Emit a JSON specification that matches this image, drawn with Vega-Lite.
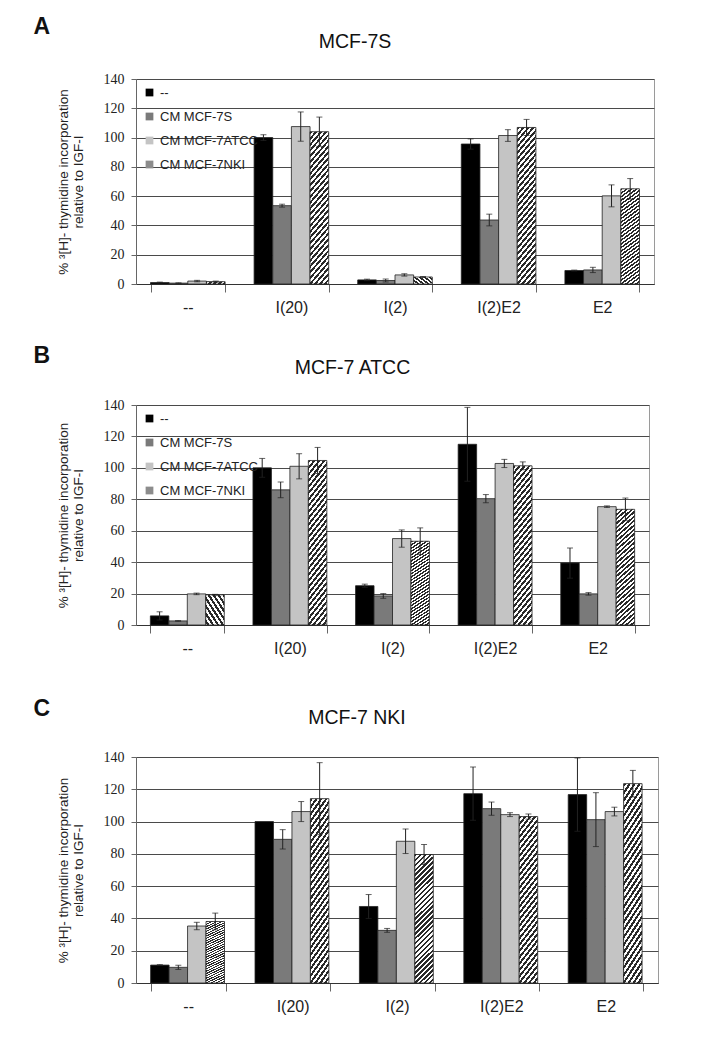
{
  "$schema": "https://vega.github.io/schema/vega-lite/v6.json",
  "background": "white",
  "padding": {"left": 33, "top": 16, "right": 10, "bottom": 5},
  "config": {
    "font": "Liberation Sans",
    "view": {"stroke": "#9a9a9a", "strokeWidth": 1},
    "title": {"font": "Liberation Sans", "color": "#111"},
    "axisY": {
      "values": [0, 20, 40, 60, 80, 100, 120, 140],
      "grid": true, "gridColor": "#4a4a4a", "gridWidth": 1,
      "domainColor": "#666", "tickColor": "#666", "tickSize": 5,
      "labelFont": "Liberation Serif", "labelFontSize": 14, "labelColor": "#222", "labelPadding": 7,
      "titleFont": "Liberation Sans", "titleFontSize": 13.5, "titleFontWeight": "normal", "titleColor": "#222",
      "titlePadding": 18, "titleLineHeight": 15
    },
    "axisX": {
      "tickBand": "extent", "tickSize": 8, "tickColor": "#666", "domainColor": "#333",
      "labelFontSize": 16, "labelAngle": 0, "labelPadding": 7, "labelColor": "#222", "grid": false, "title": null
    },
    "legend": {
      "orient": "top-left", "offset": 6, "padding": 1, "title": null, "symbolType": "square", "symbolSize": 60,
      "symbolStrokeColor": "#222", "symbolStrokeWidth": 0.6, "labelFontSize": 13, "labelFont": "Liberation Sans",
      "labelColor": "#222", "rowPadding": 10, "labelOffset": 4,
      "symbolOpacity": 1
    }
  },
  "datasets": {
    "a": [
      {"t": "--", "c": "--", "m": 1.0, "lo": 0.7, "hi": 1.3},
      {"t": "--", "c": "CM MCF-7S", "m": 0.6, "lo": 0.4, "hi": 0.8},
      {"t": "--", "c": "CM MCF-7ATCC", "m": 2.0, "lo": 1.5, "hi": 2.5},
      {"t": "--", "c": "CM MCF-7NKI", "m": 1.6, "lo": 1.2, "hi": 2.0},
      {"t": "I(20)", "c": "--", "m": 100, "lo": 98, "hi": 102},
      {"t": "I(20)", "c": "CM MCF-7S", "m": 53.5, "lo": 52.5, "hi": 54.5},
      {"t": "I(20)", "c": "CM MCF-7ATCC", "m": 107.5, "lo": 97.5, "hi": 117.5},
      {"t": "I(20)", "c": "CM MCF-7NKI", "m": 104, "lo": 94, "hi": 114},
      {"t": "I(2)", "c": "--", "m": 2.8, "lo": 2.3, "hi": 3.3},
      {"t": "I(2)", "c": "CM MCF-7S", "m": 2.4, "lo": 1.4, "hi": 3.4},
      {"t": "I(2)", "c": "CM MCF-7ATCC", "m": 6.2, "lo": 5.4, "hi": 7.0},
      {"t": "I(2)", "c": "CM MCF-7NKI", "m": 4.8, "lo": 4.5, "hi": 5.1},
      {"t": "I(2)E2", "c": "--", "m": 95.6, "lo": 92.1, "hi": 99.1},
      {"t": "I(2)E2", "c": "CM MCF-7S", "m": 43.7, "lo": 39.7, "hi": 47.7},
      {"t": "I(2)E2", "c": "CM MCF-7ATCC", "m": 101.4, "lo": 97.4, "hi": 105.4},
      {"t": "I(2)E2", "c": "CM MCF-7NKI", "m": 106.9, "lo": 101.4, "hi": 112.4},
      {"t": "E2", "c": "--", "m": 9.2, "lo": 8.9, "hi": 9.5},
      {"t": "E2", "c": "CM MCF-7S", "m": 9.6, "lo": 7.8, "hi": 11.4},
      {"t": "E2", "c": "CM MCF-7ATCC", "m": 60.2, "lo": 52.7, "hi": 67.7},
      {"t": "E2", "c": "CM MCF-7NKI", "m": 65, "lo": 58, "hi": 72}
    ],
    "b": [
      {"t": "--", "c": "--", "m": 5.8, "lo": 3.2, "hi": 8.4},
      {"t": "--", "c": "CM MCF-7S", "m": 2.6, "lo": 2.4, "hi": 2.8},
      {"t": "--", "c": "CM MCF-7ATCC", "m": 19.8, "lo": 19.3, "hi": 20.3},
      {"t": "--", "c": "CM MCF-7NKI", "m": 19.2, "lo": 18.9, "hi": 19.5},
      {"t": "I(20)", "c": "--", "m": 100, "lo": 94, "hi": 106},
      {"t": "I(20)", "c": "CM MCF-7S", "m": 86, "lo": 81, "hi": 91},
      {"t": "I(20)", "c": "CM MCF-7ATCC", "m": 101, "lo": 93, "hi": 109},
      {"t": "I(20)", "c": "CM MCF-7NKI", "m": 104.7, "lo": 96.4, "hi": 113},
      {"t": "I(2)", "c": "--", "m": 25, "lo": 24, "hi": 26},
      {"t": "I(2)", "c": "CM MCF-7S", "m": 18.5, "lo": 17, "hi": 20},
      {"t": "I(2)", "c": "CM MCF-7ATCC", "m": 55, "lo": 49.5, "hi": 60.5},
      {"t": "I(2)", "c": "CM MCF-7NKI", "m": 53.3, "lo": 44.8, "hi": 61.8},
      {"t": "I(2)E2", "c": "--", "m": 115, "lo": 91.5, "hi": 138.5},
      {"t": "I(2)E2", "c": "CM MCF-7S", "m": 80.4, "lo": 77.8, "hi": 83},
      {"t": "I(2)E2", "c": "CM MCF-7ATCC", "m": 102.8, "lo": 100.2, "hi": 105.4},
      {"t": "I(2)E2", "c": "CM MCF-7NKI", "m": 101.3, "lo": 98.8, "hi": 103.8},
      {"t": "E2", "c": "--", "m": 39.4, "lo": 29.8, "hi": 49},
      {"t": "E2", "c": "CM MCF-7S", "m": 19.8, "lo": 19, "hi": 20.6},
      {"t": "E2", "c": "CM MCF-7ATCC", "m": 75.3, "lo": 74.8, "hi": 75.8},
      {"t": "E2", "c": "CM MCF-7NKI", "m": 73.6, "lo": 66.4, "hi": 80.8}
    ],
    "c": [
      {"t": "--", "c": "--", "m": 11.1, "lo": 10.8, "hi": 11.4},
      {"t": "--", "c": "CM MCF-7S", "m": 9.7, "lo": 8.4, "hi": 11},
      {"t": "--", "c": "CM MCF-7ATCC", "m": 35.3, "lo": 33, "hi": 37.6},
      {"t": "--", "c": "CM MCF-7NKI", "m": 38.1, "lo": 32.9, "hi": 43.3},
      {"t": "I(20)", "c": "--", "m": 100, "lo": null, "hi": null},
      {"t": "I(20)", "c": "CM MCF-7S", "m": 89, "lo": 83, "hi": 95},
      {"t": "I(20)", "c": "CM MCF-7ATCC", "m": 106.2, "lo": 100, "hi": 112.4},
      {"t": "I(20)", "c": "CM MCF-7NKI", "m": 114.2, "lo": 91.9, "hi": 136.5},
      {"t": "I(2)", "c": "--", "m": 47.4, "lo": 40, "hi": 54.8},
      {"t": "I(2)", "c": "CM MCF-7S", "m": 32.6, "lo": 31.4, "hi": 33.8},
      {"t": "I(2)", "c": "CM MCF-7ATCC", "m": 87.8, "lo": 80.2, "hi": 95.4},
      {"t": "I(2)", "c": "CM MCF-7NKI", "m": 79.6, "lo": 73.4, "hi": 85.8},
      {"t": "I(2)E2", "c": "--", "m": 117.3, "lo": 100.8, "hi": 133.8},
      {"t": "I(2)E2", "c": "CM MCF-7S", "m": 108, "lo": 103.9, "hi": 112.1},
      {"t": "I(2)E2", "c": "CM MCF-7ATCC", "m": 104.3, "lo": 103.1, "hi": 105.5},
      {"t": "I(2)E2", "c": "CM MCF-7NKI", "m": 103.1, "lo": 101.5, "hi": 104.7},
      {"t": "E2", "c": "--", "m": 116.7, "lo": 94, "hi": 139.4},
      {"t": "E2", "c": "CM MCF-7S", "m": 101.2, "lo": 84.5, "hi": 117.9},
      {"t": "E2", "c": "CM MCF-7ATCC", "m": 106.2, "lo": 103.5, "hi": 108.9},
      {"t": "E2", "c": "CM MCF-7NKI", "m": 123.5, "lo": 115.3, "hi": 131.7}
    ]
  },
  "resolve": {"scale": {"x": "independent", "y": "independent", "fill": "independent", "xOffset": "independent"}, "legend": {"fill": "independent"}},
  "spacing": 29,
  "vconcat": [
    {
      "title": {"text": "A", "anchor": "start", "frame": "bounds", "fontSize": 23, "fontWeight": "bold", "offset": -8, "dx": -22},
      "vconcat": [{
        "width": 518, "height": 205,
        "title": {"text": "MCF-7S", "anchor": "middle", "frame": "bounds", "fontSize": 19.5, "fontWeight": "normal", "offset": 20},
        "data": {"name": "a"},
        "encoding": {
          "x": {"field": "t", "type": "nominal", "sort": ["--", "I(20)", "I(2)", "I(2)E2", "E2"], "scale": {"paddingInner": 0.28, "paddingOuter": 0.14}, "title": null},
          "xOffset": {"field": "c", "type": "nominal", "scale": {"domain": ["--", "CM MCF-7S", "CM MCF-7ATCC", "CM MCF-7NKI"], "paddingInner": 0, "paddingOuter": 0}}
        },
        "layer": [
          {"transform": [{"filter": "datum.c !== 'CM MCF-7NKI'"}],
           "mark": {"type": "bar", "stroke": "#222", "strokeWidth": 0.8},
           "encoding": {
             "y": {"field": "m", "type": "quantitative", "scale": {"domain": [0, 140], "nice": false}, "title": ["% ³[H]- thymidine incorporation", "relative to IGF-I"], "axis": {"labelFont": "Liberation Serif", "labelFontSize": 14}},
             "fill": {"field": "c", "type": "nominal", "scale": {"domain": ["--", "CM MCF-7S", "CM MCF-7ATCC", "CM MCF-7NKI"], "range": ["#000000", "#7a7a7a", "#c4c4c4", "#8c8c8c"]},
               "legend": {"encode": {"symbols": {"update": {"fill": [
                 {"test": "datum.value === 'CM MCF-7NKI'", "value": {"gradient": "linear", "x1": 0, "y1": 0, "x2": 1, "y2": 1, "stops": [
                   {"offset": 0, "color": "#2a2a2a"}, {"offset": 0.1, "color": "#2a2a2a"}, {"offset": 0.1, "color": "#ffffff"}, {"offset": 0.2, "color": "#ffffff"},
                   {"offset": 0.2, "color": "#2a2a2a"}, {"offset": 0.3, "color": "#2a2a2a"}, {"offset": 0.3, "color": "#ffffff"}, {"offset": 0.4, "color": "#ffffff"},
                   {"offset": 0.4, "color": "#2a2a2a"}, {"offset": 0.5, "color": "#2a2a2a"}, {"offset": 0.5, "color": "#ffffff"}, {"offset": 0.6, "color": "#ffffff"},
                   {"offset": 0.6, "color": "#2a2a2a"}, {"offset": 0.7, "color": "#2a2a2a"}, {"offset": 0.7, "color": "#ffffff"}, {"offset": 0.8, "color": "#ffffff"},
                   {"offset": 0.8, "color": "#2a2a2a"}, {"offset": 0.9, "color": "#2a2a2a"}, {"offset": 0.9, "color": "#ffffff"}, {"offset": 1, "color": "#ffffff"}]}},
                 {"test": "datum.value === '--'", "value": "#000000"},
                 {"test": "datum.value === 'CM MCF-7S'", "value": "#7a7a7a"},
                 {"value": "#c4c4c4"}]}}}}}
           }},
          {"transform": [{"filter": "datum.c === 'CM MCF-7NKI'"}],
           "mark": {"type": "bar", "stroke": "#222", "strokeWidth": 0.8, "fill": {"gradient": "linear", "x1": 0, "y1": 0, "x2": 0.16, "y2": 1.12, "stops": [
             {"offset": 0, "color": "#2a2a2a"}, {"offset": 0.0167, "color": "#2a2a2a"}, {"offset": 0.0167, "color": "#ffffff"}, {"offset": 0.0333, "color": "#ffffff"},
             {"offset": 0.0333, "color": "#2a2a2a"}, {"offset": 0.05, "color": "#2a2a2a"}, {"offset": 0.05, "color": "#ffffff"}, {"offset": 0.0667, "color": "#ffffff"},
             {"offset": 0.0667, "color": "#2a2a2a"}, {"offset": 0.0833, "color": "#2a2a2a"}, {"offset": 0.0833, "color": "#ffffff"}, {"offset": 0.1, "color": "#ffffff"},
             {"offset": 0.1, "color": "#2a2a2a"}, {"offset": 0.1167, "color": "#2a2a2a"}, {"offset": 0.1167, "color": "#ffffff"}, {"offset": 0.1333, "color": "#ffffff"},
             {"offset": 0.1333, "color": "#2a2a2a"}, {"offset": 0.15, "color": "#2a2a2a"}, {"offset": 0.15, "color": "#ffffff"}, {"offset": 0.1667, "color": "#ffffff"},
             {"offset": 0.1667, "color": "#2a2a2a"}, {"offset": 0.1833, "color": "#2a2a2a"}, {"offset": 0.1833, "color": "#ffffff"}, {"offset": 0.2, "color": "#ffffff"},
             {"offset": 0.2, "color": "#2a2a2a"}, {"offset": 0.2167, "color": "#2a2a2a"}, {"offset": 0.2167, "color": "#ffffff"}, {"offset": 0.2333, "color": "#ffffff"},
             {"offset": 0.2333, "color": "#2a2a2a"}, {"offset": 0.25, "color": "#2a2a2a"}, {"offset": 0.25, "color": "#ffffff"}, {"offset": 0.2667, "color": "#ffffff"},
             {"offset": 0.2667, "color": "#2a2a2a"}, {"offset": 0.2833, "color": "#2a2a2a"}, {"offset": 0.2833, "color": "#ffffff"}, {"offset": 0.3, "color": "#ffffff"},
             {"offset": 0.3, "color": "#2a2a2a"}, {"offset": 0.3167, "color": "#2a2a2a"}, {"offset": 0.3167, "color": "#ffffff"}, {"offset": 0.3333, "color": "#ffffff"},
             {"offset": 0.3333, "color": "#2a2a2a"}, {"offset": 0.35, "color": "#2a2a2a"}, {"offset": 0.35, "color": "#ffffff"}, {"offset": 0.3667, "color": "#ffffff"},
             {"offset": 0.3667, "color": "#2a2a2a"}, {"offset": 0.3833, "color": "#2a2a2a"}, {"offset": 0.3833, "color": "#ffffff"}, {"offset": 0.4, "color": "#ffffff"},
             {"offset": 0.4, "color": "#2a2a2a"}, {"offset": 0.4167, "color": "#2a2a2a"}, {"offset": 0.4167, "color": "#ffffff"}, {"offset": 0.4333, "color": "#ffffff"},
             {"offset": 0.4333, "color": "#2a2a2a"}, {"offset": 0.45, "color": "#2a2a2a"}, {"offset": 0.45, "color": "#ffffff"}, {"offset": 0.4667, "color": "#ffffff"},
             {"offset": 0.4667, "color": "#2a2a2a"}, {"offset": 0.4833, "color": "#2a2a2a"}, {"offset": 0.4833, "color": "#ffffff"}, {"offset": 0.5, "color": "#ffffff"},
             {"offset": 0.5, "color": "#2a2a2a"}, {"offset": 0.5167, "color": "#2a2a2a"}, {"offset": 0.5167, "color": "#ffffff"}, {"offset": 0.5333, "color": "#ffffff"},
             {"offset": 0.5333, "color": "#2a2a2a"}, {"offset": 0.55, "color": "#2a2a2a"}, {"offset": 0.55, "color": "#ffffff"}, {"offset": 0.5667, "color": "#ffffff"},
             {"offset": 0.5667, "color": "#2a2a2a"}, {"offset": 0.5833, "color": "#2a2a2a"}, {"offset": 0.5833, "color": "#ffffff"}, {"offset": 0.6, "color": "#ffffff"},
             {"offset": 0.6, "color": "#2a2a2a"}, {"offset": 0.6167, "color": "#2a2a2a"}, {"offset": 0.6167, "color": "#ffffff"}, {"offset": 0.6333, "color": "#ffffff"},
             {"offset": 0.6333, "color": "#2a2a2a"}, {"offset": 0.65, "color": "#2a2a2a"}, {"offset": 0.65, "color": "#ffffff"}, {"offset": 0.6667, "color": "#ffffff"},
             {"offset": 0.6667, "color": "#2a2a2a"}, {"offset": 0.6833, "color": "#2a2a2a"}, {"offset": 0.6833, "color": "#ffffff"}, {"offset": 0.7, "color": "#ffffff"},
             {"offset": 0.7, "color": "#2a2a2a"}, {"offset": 0.7167, "color": "#2a2a2a"}, {"offset": 0.7167, "color": "#ffffff"}, {"offset": 0.7333, "color": "#ffffff"},
             {"offset": 0.7333, "color": "#2a2a2a"}, {"offset": 0.75, "color": "#2a2a2a"}, {"offset": 0.75, "color": "#ffffff"}, {"offset": 0.7667, "color": "#ffffff"},
             {"offset": 0.7667, "color": "#2a2a2a"}, {"offset": 0.7833, "color": "#2a2a2a"}, {"offset": 0.7833, "color": "#ffffff"}, {"offset": 0.8, "color": "#ffffff"},
             {"offset": 0.8, "color": "#2a2a2a"}, {"offset": 0.8167, "color": "#2a2a2a"}, {"offset": 0.8167, "color": "#ffffff"}, {"offset": 0.8333, "color": "#ffffff"},
             {"offset": 0.8333, "color": "#2a2a2a"}, {"offset": 0.85, "color": "#2a2a2a"}, {"offset": 0.85, "color": "#ffffff"}, {"offset": 0.8667, "color": "#ffffff"},
             {"offset": 0.8667, "color": "#2a2a2a"}, {"offset": 0.8833, "color": "#2a2a2a"}, {"offset": 0.8833, "color": "#ffffff"}, {"offset": 0.9, "color": "#ffffff"},
             {"offset": 0.9, "color": "#2a2a2a"}, {"offset": 0.9167, "color": "#2a2a2a"}, {"offset": 0.9167, "color": "#ffffff"}, {"offset": 0.9333, "color": "#ffffff"},
             {"offset": 0.9333, "color": "#2a2a2a"}, {"offset": 0.95, "color": "#2a2a2a"}, {"offset": 0.95, "color": "#ffffff"}, {"offset": 0.9667, "color": "#ffffff"},
             {"offset": 0.9667, "color": "#2a2a2a"}, {"offset": 0.9833, "color": "#2a2a2a"}, {"offset": 0.9833, "color": "#ffffff"}, {"offset": 1, "color": "#ffffff"}
           ]}},
           "encoding": {"y": {"field": "m", "type": "quantitative", "title": ["% ³[H]- thymidine incorporation", "relative to IGF-I"]}}},
          {"mark": {"type": "rule", "color": "#222", "strokeWidth": 1},
           "encoding": {"y": {"field": "lo", "type": "quantitative", "title": ["% ³[H]- thymidine incorporation", "relative to IGF-I"]}, "y2": {"field": "hi"}}},
          {"mark": {"type": "tick", "color": "#222", "size": 6, "thickness": 1},
           "encoding": {"y": {"field": "lo", "type": "quantitative", "title": ["% ³[H]- thymidine incorporation", "relative to IGF-I"]}}},
          {"mark": {"type": "tick", "color": "#222", "size": 6, "thickness": 1},
           "encoding": {"y": {"field": "hi", "type": "quantitative", "title": ["% ³[H]- thymidine incorporation", "relative to IGF-I"]}}}
        ]
      }]
    },
    {
      "spacing": 41,
      "vconcat": [
        {
          "title": {"text": "B", "anchor": "start", "frame": "bounds", "fontSize": 23, "fontWeight": "bold", "offset": -11, "dx": -22},
          "vconcat": [{
            "width": 513, "height": 220,
            "title": {"text": "MCF-7 ATCC", "anchor": "middle", "frame": "bounds", "fontSize": 19.5, "fontWeight": "normal", "offset": 20},
            "data": {"name": "b"},
            "encoding": {
              "x": {"field": "t", "type": "nominal", "sort": ["--", "I(20)", "I(2)", "I(2)E2", "E2"], "scale": {"paddingInner": 0.28, "paddingOuter": 0.14}, "title": null},
              "xOffset": {"field": "c", "type": "nominal", "scale": {"domain": ["--", "CM MCF-7S", "CM MCF-7ATCC", "CM MCF-7NKI"], "paddingInner": 0, "paddingOuter": 0}}
            },
            "layer": [
              {"transform": [{"filter": "datum.c !== 'CM MCF-7NKI'"}],
               "mark": {"type": "bar", "stroke": "#222", "strokeWidth": 0.8},
               "encoding": {
                 "y": {"field": "m", "type": "quantitative", "scale": {"domain": [0, 140], "nice": false}, "title": ["% ³[H]- thymidine incorporation", "relative to IGF-I"], "axis": {"labelFont": "Liberation Serif", "labelFontSize": 14}},
                 "fill": {"field": "c", "type": "nominal", "scale": {"domain": ["--", "CM MCF-7S", "CM MCF-7ATCC", "CM MCF-7NKI"], "range": ["#000000", "#7a7a7a", "#c4c4c4", "#8c8c8c"]},
                   "legend": {"encode": {"symbols": {"update": {"fill": [
                     {"test": "datum.value === 'CM MCF-7NKI'", "value": {"gradient": "linear", "x1": 0, "y1": 0, "x2": 1, "y2": 1, "stops": [
                       {"offset": 0, "color": "#2a2a2a"}, {"offset": 0.1, "color": "#2a2a2a"}, {"offset": 0.1, "color": "#ffffff"}, {"offset": 0.2, "color": "#ffffff"},
                       {"offset": 0.2, "color": "#2a2a2a"}, {"offset": 0.3, "color": "#2a2a2a"}, {"offset": 0.3, "color": "#ffffff"}, {"offset": 0.4, "color": "#ffffff"},
                       {"offset": 0.4, "color": "#2a2a2a"}, {"offset": 0.5, "color": "#2a2a2a"}, {"offset": 0.5, "color": "#ffffff"}, {"offset": 0.6, "color": "#ffffff"},
                       {"offset": 0.6, "color": "#2a2a2a"}, {"offset": 0.7, "color": "#2a2a2a"}, {"offset": 0.7, "color": "#ffffff"}, {"offset": 0.8, "color": "#ffffff"},
                       {"offset": 0.8, "color": "#2a2a2a"}, {"offset": 0.9, "color": "#2a2a2a"}, {"offset": 0.9, "color": "#ffffff"}, {"offset": 1, "color": "#ffffff"}]}},
                     {"test": "datum.value === '--'", "value": "#000000"},
                     {"test": "datum.value === 'CM MCF-7S'", "value": "#7a7a7a"},
                     {"value": "#c4c4c4"}]}}}}}
               }},
              {"transform": [{"filter": "datum.c === 'CM MCF-7NKI'"}],
               "mark": {"type": "bar", "stroke": "#222", "strokeWidth": 0.8, "fill": {"gradient": "linear", "x1": 0, "y1": 0, "x2": 0.16, "y2": 1.12, "stops": [
                 {"offset": 0, "color": "#2a2a2a"}, {"offset": 0.0167, "color": "#2a2a2a"}, {"offset": 0.0167, "color": "#ffffff"}, {"offset": 0.0333, "color": "#ffffff"},
                 {"offset": 0.0333, "color": "#2a2a2a"}, {"offset": 0.05, "color": "#2a2a2a"}, {"offset": 0.05, "color": "#ffffff"}, {"offset": 0.0667, "color": "#ffffff"},
                 {"offset": 0.0667, "color": "#2a2a2a"}, {"offset": 0.0833, "color": "#2a2a2a"}, {"offset": 0.0833, "color": "#ffffff"}, {"offset": 0.1, "color": "#ffffff"},
                 {"offset": 0.1, "color": "#2a2a2a"}, {"offset": 0.1167, "color": "#2a2a2a"}, {"offset": 0.1167, "color": "#ffffff"}, {"offset": 0.1333, "color": "#ffffff"},
                 {"offset": 0.1333, "color": "#2a2a2a"}, {"offset": 0.15, "color": "#2a2a2a"}, {"offset": 0.15, "color": "#ffffff"}, {"offset": 0.1667, "color": "#ffffff"},
                 {"offset": 0.1667, "color": "#2a2a2a"}, {"offset": 0.1833, "color": "#2a2a2a"}, {"offset": 0.1833, "color": "#ffffff"}, {"offset": 0.2, "color": "#ffffff"},
                 {"offset": 0.2, "color": "#2a2a2a"}, {"offset": 0.2167, "color": "#2a2a2a"}, {"offset": 0.2167, "color": "#ffffff"}, {"offset": 0.2333, "color": "#ffffff"},
                 {"offset": 0.2333, "color": "#2a2a2a"}, {"offset": 0.25, "color": "#2a2a2a"}, {"offset": 0.25, "color": "#ffffff"}, {"offset": 0.2667, "color": "#ffffff"},
                 {"offset": 0.2667, "color": "#2a2a2a"}, {"offset": 0.2833, "color": "#2a2a2a"}, {"offset": 0.2833, "color": "#ffffff"}, {"offset": 0.3, "color": "#ffffff"},
                 {"offset": 0.3, "color": "#2a2a2a"}, {"offset": 0.3167, "color": "#2a2a2a"}, {"offset": 0.3167, "color": "#ffffff"}, {"offset": 0.3333, "color": "#ffffff"},
                 {"offset": 0.3333, "color": "#2a2a2a"}, {"offset": 0.35, "color": "#2a2a2a"}, {"offset": 0.35, "color": "#ffffff"}, {"offset": 0.3667, "color": "#ffffff"},
                 {"offset": 0.3667, "color": "#2a2a2a"}, {"offset": 0.3833, "color": "#2a2a2a"}, {"offset": 0.3833, "color": "#ffffff"}, {"offset": 0.4, "color": "#ffffff"},
                 {"offset": 0.4, "color": "#2a2a2a"}, {"offset": 0.4167, "color": "#2a2a2a"}, {"offset": 0.4167, "color": "#ffffff"}, {"offset": 0.4333, "color": "#ffffff"},
                 {"offset": 0.4333, "color": "#2a2a2a"}, {"offset": 0.45, "color": "#2a2a2a"}, {"offset": 0.45, "color": "#ffffff"}, {"offset": 0.4667, "color": "#ffffff"},
                 {"offset": 0.4667, "color": "#2a2a2a"}, {"offset": 0.4833, "color": "#2a2a2a"}, {"offset": 0.4833, "color": "#ffffff"}, {"offset": 0.5, "color": "#ffffff"},
                 {"offset": 0.5, "color": "#2a2a2a"}, {"offset": 0.5167, "color": "#2a2a2a"}, {"offset": 0.5167, "color": "#ffffff"}, {"offset": 0.5333, "color": "#ffffff"},
                 {"offset": 0.5333, "color": "#2a2a2a"}, {"offset": 0.55, "color": "#2a2a2a"}, {"offset": 0.55, "color": "#ffffff"}, {"offset": 0.5667, "color": "#ffffff"},
                 {"offset": 0.5667, "color": "#2a2a2a"}, {"offset": 0.5833, "color": "#2a2a2a"}, {"offset": 0.5833, "color": "#ffffff"}, {"offset": 0.6, "color": "#ffffff"},
                 {"offset": 0.6, "color": "#2a2a2a"}, {"offset": 0.6167, "color": "#2a2a2a"}, {"offset": 0.6167, "color": "#ffffff"}, {"offset": 0.6333, "color": "#ffffff"},
                 {"offset": 0.6333, "color": "#2a2a2a"}, {"offset": 0.65, "color": "#2a2a2a"}, {"offset": 0.65, "color": "#ffffff"}, {"offset": 0.6667, "color": "#ffffff"},
                 {"offset": 0.6667, "color": "#2a2a2a"}, {"offset": 0.6833, "color": "#2a2a2a"}, {"offset": 0.6833, "color": "#ffffff"}, {"offset": 0.7, "color": "#ffffff"},
                 {"offset": 0.7, "color": "#2a2a2a"}, {"offset": 0.7167, "color": "#2a2a2a"}, {"offset": 0.7167, "color": "#ffffff"}, {"offset": 0.7333, "color": "#ffffff"},
                 {"offset": 0.7333, "color": "#2a2a2a"}, {"offset": 0.75, "color": "#2a2a2a"}, {"offset": 0.75, "color": "#ffffff"}, {"offset": 0.7667, "color": "#ffffff"},
                 {"offset": 0.7667, "color": "#2a2a2a"}, {"offset": 0.7833, "color": "#2a2a2a"}, {"offset": 0.7833, "color": "#ffffff"}, {"offset": 0.8, "color": "#ffffff"},
                 {"offset": 0.8, "color": "#2a2a2a"}, {"offset": 0.8167, "color": "#2a2a2a"}, {"offset": 0.8167, "color": "#ffffff"}, {"offset": 0.8333, "color": "#ffffff"},
                 {"offset": 0.8333, "color": "#2a2a2a"}, {"offset": 0.85, "color": "#2a2a2a"}, {"offset": 0.85, "color": "#ffffff"}, {"offset": 0.8667, "color": "#ffffff"},
                 {"offset": 0.8667, "color": "#2a2a2a"}, {"offset": 0.8833, "color": "#2a2a2a"}, {"offset": 0.8833, "color": "#ffffff"}, {"offset": 0.9, "color": "#ffffff"},
                 {"offset": 0.9, "color": "#2a2a2a"}, {"offset": 0.9167, "color": "#2a2a2a"}, {"offset": 0.9167, "color": "#ffffff"}, {"offset": 0.9333, "color": "#ffffff"},
                 {"offset": 0.9333, "color": "#2a2a2a"}, {"offset": 0.95, "color": "#2a2a2a"}, {"offset": 0.95, "color": "#ffffff"}, {"offset": 0.9667, "color": "#ffffff"},
                 {"offset": 0.9667, "color": "#2a2a2a"}, {"offset": 0.9833, "color": "#2a2a2a"}, {"offset": 0.9833, "color": "#ffffff"}, {"offset": 1, "color": "#ffffff"}
               ]}},
               "encoding": {"y": {"field": "m", "type": "quantitative", "title": ["% ³[H]- thymidine incorporation", "relative to IGF-I"]}}},
              {"mark": {"type": "rule", "color": "#222", "strokeWidth": 1},
               "encoding": {"y": {"field": "lo", "type": "quantitative", "title": ["% ³[H]- thymidine incorporation", "relative to IGF-I"]}, "y2": {"field": "hi"}}},
              {"mark": {"type": "tick", "color": "#222", "size": 6, "thickness": 1},
               "encoding": {"y": {"field": "lo", "type": "quantitative", "title": ["% ³[H]- thymidine incorporation", "relative to IGF-I"]}}},
              {"mark": {"type": "tick", "color": "#222", "size": 6, "thickness": 1},
               "encoding": {"y": {"field": "hi", "type": "quantitative", "title": ["% ³[H]- thymidine incorporation", "relative to IGF-I"]}}}
            ]
          }]
        },
        {
          "title": {"text": "C", "anchor": "start", "frame": "bounds", "fontSize": 23, "fontWeight": "bold", "offset": -14, "dx": -22},
          "vconcat": [{
            "width": 522, "height": 226,
            "title": {"text": "MCF-7 NKI", "anchor": "middle", "frame": "bounds", "fontSize": 19.5, "fontWeight": "normal", "offset": 22},
            "data": {"name": "c"},
            "encoding": {
              "x": {"field": "t", "type": "nominal", "sort": ["--", "I(20)", "I(2)", "I(2)E2", "E2"], "scale": {"paddingInner": 0.28, "paddingOuter": 0.14}, "title": null},
              "xOffset": {"field": "c", "type": "nominal", "scale": {"domain": ["--", "CM MCF-7S", "CM MCF-7ATCC", "CM MCF-7NKI"], "paddingInner": 0, "paddingOuter": 0}}
            },
            "layer": [
              {"transform": [{"filter": "datum.c !== 'CM MCF-7NKI'"}],
               "mark": {"type": "bar", "stroke": "#222", "strokeWidth": 0.8},
               "encoding": {
                 "y": {"field": "m", "type": "quantitative", "scale": {"domain": [0, 140], "nice": false}, "title": ["% ³[H]- thymidine incorporation", "relative to IGF-I"], "axis": {"labelFont": "Liberation Serif", "labelFontSize": 14}},
                 "fill": {"field": "c", "type": "nominal", "scale": {"domain": ["--", "CM MCF-7S", "CM MCF-7ATCC", "CM MCF-7NKI"], "range": ["#000000", "#7a7a7a", "#c4c4c4", "#8c8c8c"]},
                   "legend": {"encode": {"symbols": {"update": {"fill": [
                     {"test": "datum.value === 'CM MCF-7NKI'", "value": {"gradient": "linear", "x1": 0, "y1": 0, "x2": 1, "y2": 1, "stops": [
                       {"offset": 0, "color": "#2a2a2a"}, {"offset": 0.1, "color": "#2a2a2a"}, {"offset": 0.1, "color": "#ffffff"}, {"offset": 0.2, "color": "#ffffff"},
                       {"offset": 0.2, "color": "#2a2a2a"}, {"offset": 0.3, "color": "#2a2a2a"}, {"offset": 0.3, "color": "#ffffff"}, {"offset": 0.4, "color": "#ffffff"},
                       {"offset": 0.4, "color": "#2a2a2a"}, {"offset": 0.5, "color": "#2a2a2a"}, {"offset": 0.5, "color": "#ffffff"}, {"offset": 0.6, "color": "#ffffff"},
                       {"offset": 0.6, "color": "#2a2a2a"}, {"offset": 0.7, "color": "#2a2a2a"}, {"offset": 0.7, "color": "#ffffff"}, {"offset": 0.8, "color": "#ffffff"},
                       {"offset": 0.8, "color": "#2a2a2a"}, {"offset": 0.9, "color": "#2a2a2a"}, {"offset": 0.9, "color": "#ffffff"}, {"offset": 1, "color": "#ffffff"}]}},
                     {"test": "datum.value === '--'", "value": "#000000"},
                     {"test": "datum.value === 'CM MCF-7S'", "value": "#7a7a7a"},
                     {"value": "#c4c4c4"}]}}}}}
               }},
              {"transform": [{"filter": "datum.c === 'CM MCF-7NKI'"}],
               "mark": {"type": "bar", "stroke": "#222", "strokeWidth": 0.8, "fill": {"gradient": "linear", "x1": 0, "y1": 0, "x2": 0.16, "y2": 1.12, "stops": [
                 {"offset": 0, "color": "#2a2a2a"}, {"offset": 0.0167, "color": "#2a2a2a"}, {"offset": 0.0167, "color": "#ffffff"}, {"offset": 0.0333, "color": "#ffffff"},
                 {"offset": 0.0333, "color": "#2a2a2a"}, {"offset": 0.05, "color": "#2a2a2a"}, {"offset": 0.05, "color": "#ffffff"}, {"offset": 0.0667, "color": "#ffffff"},
                 {"offset": 0.0667, "color": "#2a2a2a"}, {"offset": 0.0833, "color": "#2a2a2a"}, {"offset": 0.0833, "color": "#ffffff"}, {"offset": 0.1, "color": "#ffffff"},
                 {"offset": 0.1, "color": "#2a2a2a"}, {"offset": 0.1167, "color": "#2a2a2a"}, {"offset": 0.1167, "color": "#ffffff"}, {"offset": 0.1333, "color": "#ffffff"},
                 {"offset": 0.1333, "color": "#2a2a2a"}, {"offset": 0.15, "color": "#2a2a2a"}, {"offset": 0.15, "color": "#ffffff"}, {"offset": 0.1667, "color": "#ffffff"},
                 {"offset": 0.1667, "color": "#2a2a2a"}, {"offset": 0.1833, "color": "#2a2a2a"}, {"offset": 0.1833, "color": "#ffffff"}, {"offset": 0.2, "color": "#ffffff"},
                 {"offset": 0.2, "color": "#2a2a2a"}, {"offset": 0.2167, "color": "#2a2a2a"}, {"offset": 0.2167, "color": "#ffffff"}, {"offset": 0.2333, "color": "#ffffff"},
                 {"offset": 0.2333, "color": "#2a2a2a"}, {"offset": 0.25, "color": "#2a2a2a"}, {"offset": 0.25, "color": "#ffffff"}, {"offset": 0.2667, "color": "#ffffff"},
                 {"offset": 0.2667, "color": "#2a2a2a"}, {"offset": 0.2833, "color": "#2a2a2a"}, {"offset": 0.2833, "color": "#ffffff"}, {"offset": 0.3, "color": "#ffffff"},
                 {"offset": 0.3, "color": "#2a2a2a"}, {"offset": 0.3167, "color": "#2a2a2a"}, {"offset": 0.3167, "color": "#ffffff"}, {"offset": 0.3333, "color": "#ffffff"},
                 {"offset": 0.3333, "color": "#2a2a2a"}, {"offset": 0.35, "color": "#2a2a2a"}, {"offset": 0.35, "color": "#ffffff"}, {"offset": 0.3667, "color": "#ffffff"},
                 {"offset": 0.3667, "color": "#2a2a2a"}, {"offset": 0.3833, "color": "#2a2a2a"}, {"offset": 0.3833, "color": "#ffffff"}, {"offset": 0.4, "color": "#ffffff"},
                 {"offset": 0.4, "color": "#2a2a2a"}, {"offset": 0.4167, "color": "#2a2a2a"}, {"offset": 0.4167, "color": "#ffffff"}, {"offset": 0.4333, "color": "#ffffff"},
                 {"offset": 0.4333, "color": "#2a2a2a"}, {"offset": 0.45, "color": "#2a2a2a"}, {"offset": 0.45, "color": "#ffffff"}, {"offset": 0.4667, "color": "#ffffff"},
                 {"offset": 0.4667, "color": "#2a2a2a"}, {"offset": 0.4833, "color": "#2a2a2a"}, {"offset": 0.4833, "color": "#ffffff"}, {"offset": 0.5, "color": "#ffffff"},
                 {"offset": 0.5, "color": "#2a2a2a"}, {"offset": 0.5167, "color": "#2a2a2a"}, {"offset": 0.5167, "color": "#ffffff"}, {"offset": 0.5333, "color": "#ffffff"},
                 {"offset": 0.5333, "color": "#2a2a2a"}, {"offset": 0.55, "color": "#2a2a2a"}, {"offset": 0.55, "color": "#ffffff"}, {"offset": 0.5667, "color": "#ffffff"},
                 {"offset": 0.5667, "color": "#2a2a2a"}, {"offset": 0.5833, "color": "#2a2a2a"}, {"offset": 0.5833, "color": "#ffffff"}, {"offset": 0.6, "color": "#ffffff"},
                 {"offset": 0.6, "color": "#2a2a2a"}, {"offset": 0.6167, "color": "#2a2a2a"}, {"offset": 0.6167, "color": "#ffffff"}, {"offset": 0.6333, "color": "#ffffff"},
                 {"offset": 0.6333, "color": "#2a2a2a"}, {"offset": 0.65, "color": "#2a2a2a"}, {"offset": 0.65, "color": "#ffffff"}, {"offset": 0.6667, "color": "#ffffff"},
                 {"offset": 0.6667, "color": "#2a2a2a"}, {"offset": 0.6833, "color": "#2a2a2a"}, {"offset": 0.6833, "color": "#ffffff"}, {"offset": 0.7, "color": "#ffffff"},
                 {"offset": 0.7, "color": "#2a2a2a"}, {"offset": 0.7167, "color": "#2a2a2a"}, {"offset": 0.7167, "color": "#ffffff"}, {"offset": 0.7333, "color": "#ffffff"},
                 {"offset": 0.7333, "color": "#2a2a2a"}, {"offset": 0.75, "color": "#2a2a2a"}, {"offset": 0.75, "color": "#ffffff"}, {"offset": 0.7667, "color": "#ffffff"},
                 {"offset": 0.7667, "color": "#2a2a2a"}, {"offset": 0.7833, "color": "#2a2a2a"}, {"offset": 0.7833, "color": "#ffffff"}, {"offset": 0.8, "color": "#ffffff"},
                 {"offset": 0.8, "color": "#2a2a2a"}, {"offset": 0.8167, "color": "#2a2a2a"}, {"offset": 0.8167, "color": "#ffffff"}, {"offset": 0.8333, "color": "#ffffff"},
                 {"offset": 0.8333, "color": "#2a2a2a"}, {"offset": 0.85, "color": "#2a2a2a"}, {"offset": 0.85, "color": "#ffffff"}, {"offset": 0.8667, "color": "#ffffff"},
                 {"offset": 0.8667, "color": "#2a2a2a"}, {"offset": 0.8833, "color": "#2a2a2a"}, {"offset": 0.8833, "color": "#ffffff"}, {"offset": 0.9, "color": "#ffffff"},
                 {"offset": 0.9, "color": "#2a2a2a"}, {"offset": 0.9167, "color": "#2a2a2a"}, {"offset": 0.9167, "color": "#ffffff"}, {"offset": 0.9333, "color": "#ffffff"},
                 {"offset": 0.9333, "color": "#2a2a2a"}, {"offset": 0.95, "color": "#2a2a2a"}, {"offset": 0.95, "color": "#ffffff"}, {"offset": 0.9667, "color": "#ffffff"},
                 {"offset": 0.9667, "color": "#2a2a2a"}, {"offset": 0.9833, "color": "#2a2a2a"}, {"offset": 0.9833, "color": "#ffffff"}, {"offset": 1, "color": "#ffffff"}
               ]}},
               "encoding": {"y": {"field": "m", "type": "quantitative", "title": ["% ³[H]- thymidine incorporation", "relative to IGF-I"]}}},
              {"mark": {"type": "rule", "color": "#222", "strokeWidth": 1},
               "encoding": {"y": {"field": "lo", "type": "quantitative", "title": ["% ³[H]- thymidine incorporation", "relative to IGF-I"]}, "y2": {"field": "hi"}}},
              {"mark": {"type": "tick", "color": "#222", "size": 6, "thickness": 1},
               "encoding": {"y": {"field": "lo", "type": "quantitative", "title": ["% ³[H]- thymidine incorporation", "relative to IGF-I"]}}},
              {"mark": {"type": "tick", "color": "#222", "size": 6, "thickness": 1},
               "encoding": {"y": {"field": "hi", "type": "quantitative", "title": ["% ³[H]- thymidine incorporation", "relative to IGF-I"]}}}
            ]
          }]
        }
      ]
    }
  ]
}
